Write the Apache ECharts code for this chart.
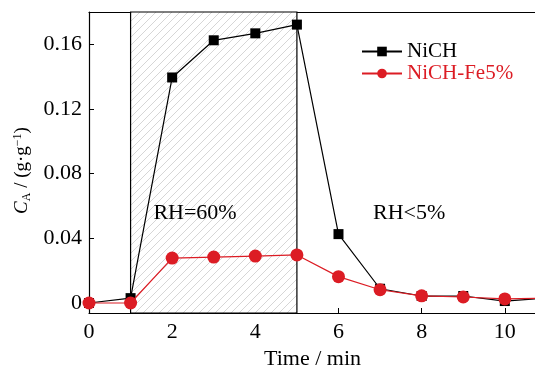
<!DOCTYPE html>
<html><head><meta charset="utf-8">
<script src="https://cdn.jsdelivr.net/npm/echarts@6/dist/echarts.min.js"></script>
<style>html,body{margin:0;padding:0;background:#fff}#c{width:535px;height:369px}</style>
</head><body><div id="c"></div>
<script>
var times = [0,1,2,3,4,5,6,7,8,9,10,11];
var nich = [0.000,0.003,0.1395,0.1625,0.1668,0.1722,0.0426,0.0088,0.0043,0.0043,0.0012,0.003];
var nichFe = [0.000,0.000,0.0278,0.0284,0.0290,0.0297,0.0163,0.0082,0.0044,0.0037,0.0025,0.003];
var yTicks = [0,0.04,0.08,0.12,0.16];
var xTicks = [0,2,4,6,8,10];
var humidRange = [1,5];
var notes = [{text:'RH=60%', x:2.55, y:0.0556},{text:'RH<5%', x:7.7, y:0.0556}];

var RED = '#dc1c24';
var FONT = '"Liberation Serif","DejaVu Serif",serif';
var FS = 22;

var pat = document.createElement('canvas');
pat.width = 8; pat.height = 8;
var g = pat.getContext('2d');
g.fillStyle = '#fff'; g.fillRect(0,0,8,8);
g.strokeStyle = '#d6d6d6'; g.lineWidth = 1;
g.beginPath();
g.moveTo(-1,9); g.lineTo(9,-1);
g.moveTo(-1,1); g.lineTo(1,-1);
g.moveTo(7,9); g.lineTo(9,7);
g.stroke();

function pairs(v){ return times.map(function(t,i){return [t,v[i]];}); }

var chart = echarts.init(document.getElementById('c'));
chart.setOption({
  animation:false,
  textStyle:{fontFamily:FONT},
  grid:{left:89,right:-1,top:12,bottom:56,outerBoundsMode:'none',containLabel:false},
  legend:{
    left:356, top:36, orient:'vertical', itemGap:1, itemWidth:40, itemHeight:12,
    textStyle:{fontFamily:FONT,fontSize:21},
    data:[{name:'NiCH',textStyle:{color:'#000'}},{name:'NiCH-Fe5%',textStyle:{color:RED}}]
  },
  xAxis:[{
    type:'value', min:0, max:10.75,
    name:'Time / min', nameLocation:'middle', nameGap:31,
    nameTextStyle:{fontFamily:FONT,fontSize:FS,color:'#000'},
    axisLine:{onZero:false,lineStyle:{color:'#000',width:1.2}},
    axisTick:{inside:true,length:5,customValues:xTicks,lineStyle:{color:'#000'}},
    axisLabel:{customValues:xTicks,fontFamily:FONT,fontSize:FS,color:'#000',margin:8},
    splitLine:{show:false}
  },{
    type:'value', position:'top', min:0, max:10.75,
    axisLine:{show:true,onZero:false,lineStyle:{color:'#000',width:1.2}},
    axisTick:{show:false}, axisLabel:{show:false}, splitLine:{show:false}
  }],
  yAxis:{
    type:'value', min:-0.0062, max:0.18,
    name:'{c|C}{s|A}{n| / (g·g}{p|−1}{n|)}', nameLocation:'middle', nameGap:56, nameRotate:90,
    nameTextStyle:{padding:[0,16,0,0],rich:{
      c:{fontFamily:FONT,fontSize:19,fontStyle:'italic',color:'#000'},
      s:{fontFamily:FONT,fontSize:12,color:'#000',padding:[9,0,0,0]},
      n:{fontFamily:FONT,fontSize:19,color:'#000'},
      p:{fontFamily:FONT,fontSize:12,color:'#000',padding:[0,0,9,0]}
    }},
    axisLine:{show:true,onZero:false,lineStyle:{color:'#000',width:1.2}},
    axisTick:{inside:true,length:5,customValues:yTicks,lineStyle:{color:'#000'}},
    axisLabel:{customValues:yTicks,fontFamily:FONT,fontSize:FS,color:'#000',margin:7,
      formatter:function(v){return v===0?'0':v.toFixed(2);}},
    splitLine:{show:false}
  },
  series:[{
    name:'NiCH', type:'line', data:pairs(nich),
    symbol:'rect', symbolSize:10, color:'#000',
    lineStyle:{color:'#000',width:1.2}, itemStyle:{color:'#000'},
    z:3,
    markArea:{silent:true,z:1,
      itemStyle:{color:{image:pat,repeat:'repeat'},borderColor:'#000',borderWidth:1.2},
      data:[[{xAxis:humidRange[0]},{xAxis:humidRange[1]}]]
    }
  },{
    name:'NiCH-Fe5%', type:'line', data:pairs(nichFe),
    symbol:'circle', symbolSize:13, color:RED,
    lineStyle:{color:RED,width:1.2}, itemStyle:{color:RED},
    z:4,
    markPoint:{silent:true,symbol:'circle',symbolSize:2,
      itemStyle:{color:'rgba(0,0,0,0)'},
      label:{show:true,position:'inside',fontFamily:FONT,fontSize:FS,color:'#000',
        formatter:function(p){return p.name;}},
      data:notes.map(function(n){return {name:n.text,coord:[n.x,n.y]};})
    }
  }]
});
</script></body></html>
